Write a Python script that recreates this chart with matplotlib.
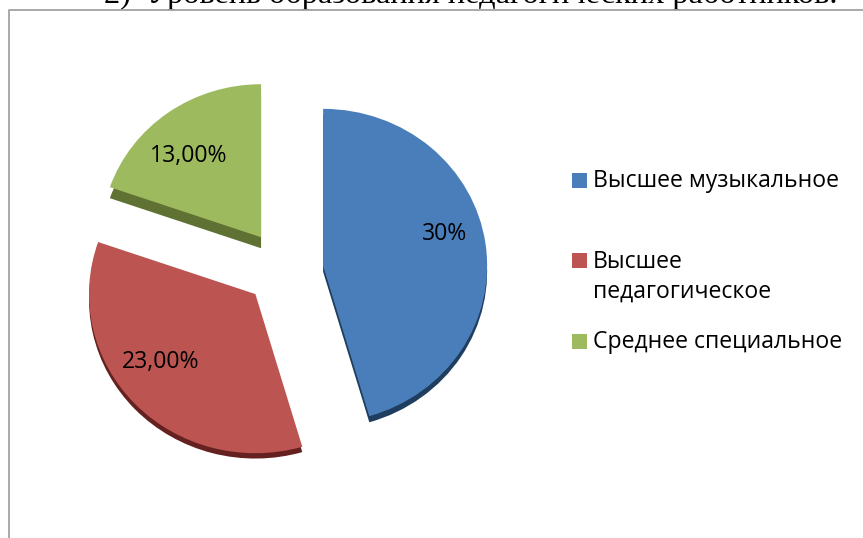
import matplotlib
matplotlib.use("Agg")
import matplotlib.pyplot as plt
from matplotlib.lines import Line2D
from matplotlib.patches import Rectangle

W, H = 863, 538

title = "2)  Уровень образования педагогических работников."
categories = ["Высшее музыкальное", "Высшее\nпедагогическое", "Среднее специальное"]
values = [30, 23, 13]
value_labels = ["30%", "23,00%", "13,00%"]

colors = ["#4A7EBB", "#BC5552", "#9DBB5E"]
side_colors = ["#1F3D5F", "#64211F", "#5F7233"]
side_drop = [0.04, 0.035, 0.072]
radius_scale = [1.025, 1.04, 1.0]
nudge = [0.02, 0.0, 0.0]
label_pos = [(445, 234), (161, 362), (189, 156)]
legend_y = [181, 261, 342]
text_font = "Open Sans"


def px(x, y):
    return x / W, 1 - y / H


fig = plt.figure(figsize=(W / 100, H / 100), dpi=100)
ax = fig.add_axes([0, 0, 1, 1])

# pie centre and radii in pixels, the axes are stretched so the pie looks tilted
cx, cy, rx, ry = 284, 268, 160, 153
explode = [0.247] * 3

# sides first, one dark pie per slice so each can have its own depth
for i in range(3):
    side, _ = ax.pie(values, startangle=90, counterclock=False, explode=explode,
                     colors=side_colors, center=(0, -side_drop[i] - nudge[i]))
    for j, w in enumerate(side):
        w.set_visible(j == i)
        w.set_radius(radius_scale[i])

for i in range(3):
    top, _ = ax.pie(values, startangle=90, counterclock=False, explode=explode,
                    colors=colors, center=(0, -nudge[i]))
    for j, w in enumerate(top):
        w.set_visible(j == i)
        w.set_radius(radius_scale[i])

ax.set_aspect("auto")
ax.set_xlim(-cx / rx, (W - cx) / rx)
ax.set_ylim(-(H - cy) / ry, cy / ry)
ax.axis("off")

# frame of the chart object, open on the right and at the bottom
fig.add_artist(Line2D([9 / W, 9 / W, 1], [0, 1 - 9.5 / H, 1 - 9.5 / H], color="#A3A3A3", lw=1.3))

# heading of the page, cut off by the top edge
x0, y0 = px(104, 3)
fig.text(x0, y0, title, family="Liberation Serif", fontsize=23.3, color="black", va="baseline", zorder=0)

for (x, y), s in zip(label_pos, value_labels):
    lx, ly = px(x, y)
    fig.text(lx, ly, s, family=text_font, fontsize=16.6, color="black", ha="center", va="center")

for c, y, s in zip(colors, legend_y, categories):
    sx, sy = px(572, y + 7)
    fig.add_artist(Rectangle((sx, sy), 15 / W, 15 / H, transform=fig.transFigure, color=c, lw=0))
    tx, ty = px(593, y - 11 if "\n" in s else y)
    fig.text(tx, ty, s, family=text_font, fontsize=16.6, color="black", va="top" if "\n" in s else "center",
             linespacing=1.3)

fig.savefig("out.png", dpi=100, facecolor="white")
